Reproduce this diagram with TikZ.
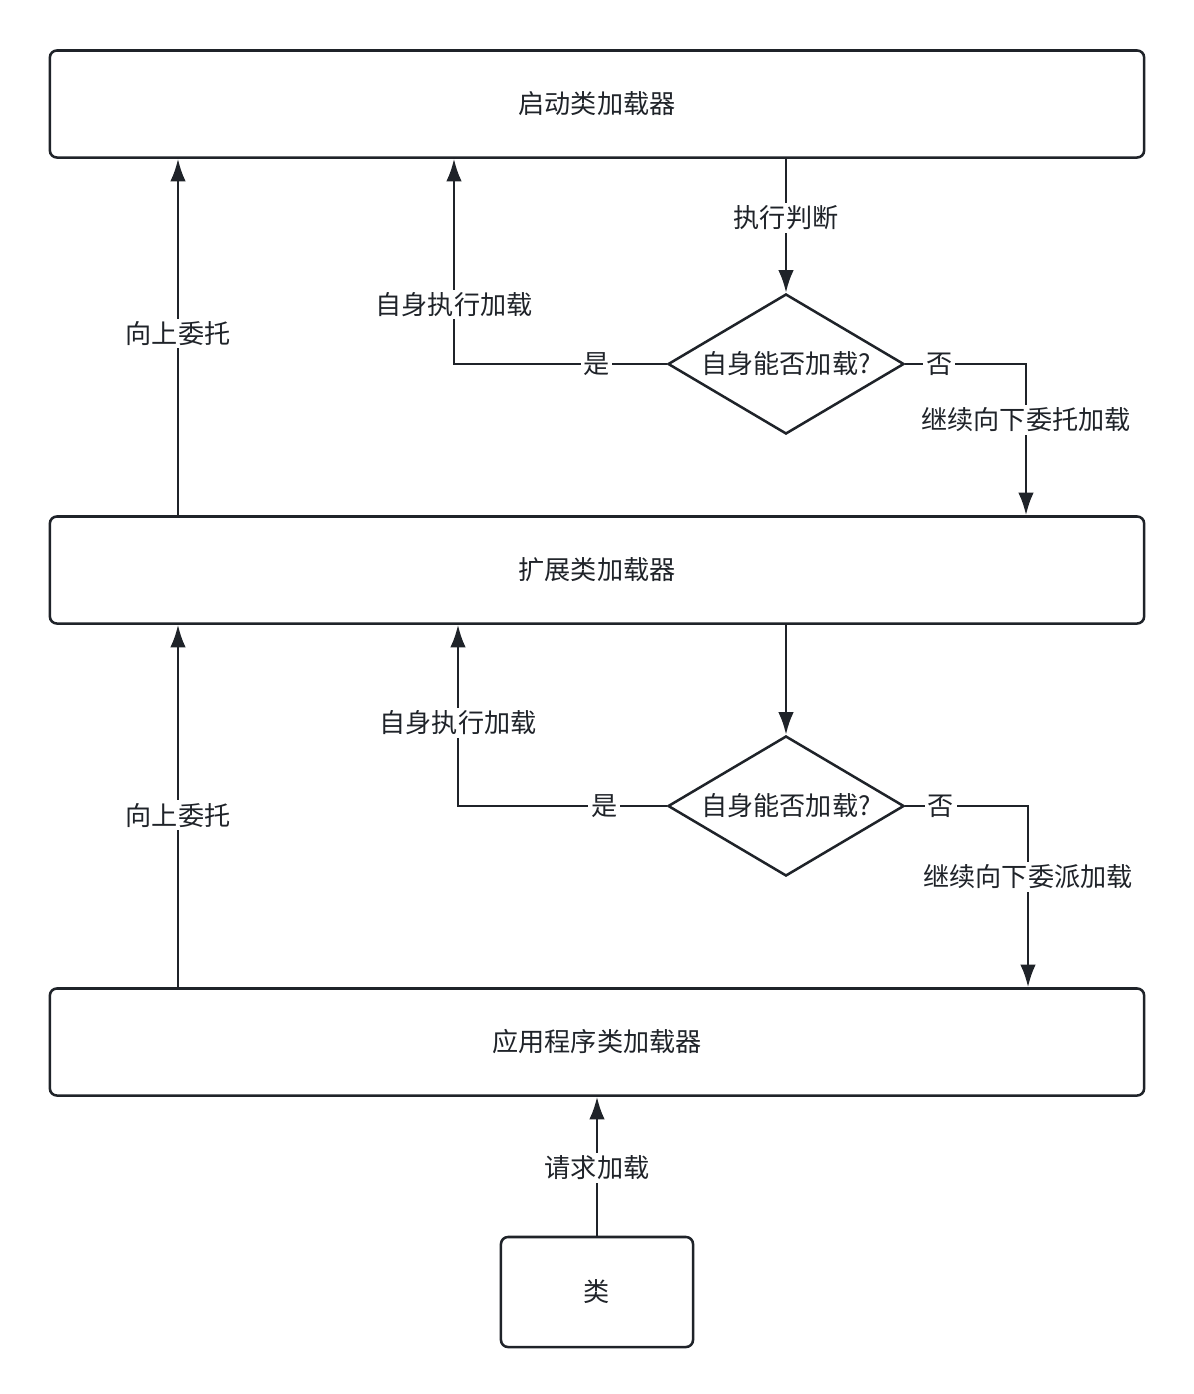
\documentclass[tikz,border=0pt]{standalone}
\usepackage{fontspec}
\setmainfont{Noto Sans CJK SC}
\usetikzlibrary{shapes.geometric,arrows.meta}
\definecolor{ink}{HTML}{1F2329}
\tikzset{line/.style={draw=ink, line width=1.8pt, -{Latex[length=16pt,width=11pt]}}}

\begin{document}
\begin{tikzpicture}
  [x=0.025cm,y=-0.025cm,font=\fontsize{18.6}{22}\selectfont,text=ink,
   box/.style={draw=ink,line width=1.8pt,rounded corners=5pt,minimum width=27.35cm,minimum height=2.675cm},
   decide/.style={diamond,draw=ink,line width=1.8pt,aspect=1.69,minimum width=5.9cm,minimum height=3.5cm,inner sep=0pt},
   lbl/.style={fill=white,inner sep=2pt}]
  \useasboundingbox (0,0) rectangle (1194,1394);
  \node[box] (boot) at (597,104) {启动类加载器};
  \node[box] (ext) at (597,570) {扩展类加载器};
  \node[box] (app) at (597,1042) {应用程序类加载器};
  \node[draw=ink,line width=1.8pt,rounded corners=5pt,minimum width=4.8cm,minimum height=2.75cm] (cls) at (597,1292) {类};
  \node[decide] (d1) at (786,364) {自身能否加载?};
  \node[decide] (d2) at (786,806) {自身能否加载?};

  % delegate upward
  \path [line] (ext.north -| 178,0) -- (boot.south -| 178,0) node[lbl,pos=0.51] {向上委托};
  \path [line] (app.north -| 178,0) -- (ext.south -| 178,0) node[lbl,pos=0.475] {向上委托};

  % boot loader
  \path [line] (boot.south -| d1) -- (d1.north) node[lbl,pos=0.44] {执行判断};
  \path [line] (d1.west) -- (454,364) node[lbl,pos=0.33] {是} -- (boot.south -| 454,0) node[lbl,pos=0.29] {自身执行加载};
  \path [line] (d1.east) -- (1026,364) node[lbl,pos=0.28] {否} -- (ext.north -| 1026,0) node[lbl,pos=0.37] {继续向下委托加载};

  % ext loader
  \path [line] (ext.south -| d2) -- (d2.north);
  \path [line] (d2.west) -- (458,806) node[lbl,pos=0.3] {是} -- (ext.south -| 458,0) node[lbl,pos=0.46] {自身执行加载};
  \path [line] (d2.east) -- (1028,806) node[lbl,pos=0.29] {否} -- (app.north -| 1028,0) node[lbl,pos=0.39] {继续向下委派加载};

  \path [line] (cls.north) -- (app.south) node[lbl,pos=0.49] {请求加载};
\end{tikzpicture}
\end{document}
